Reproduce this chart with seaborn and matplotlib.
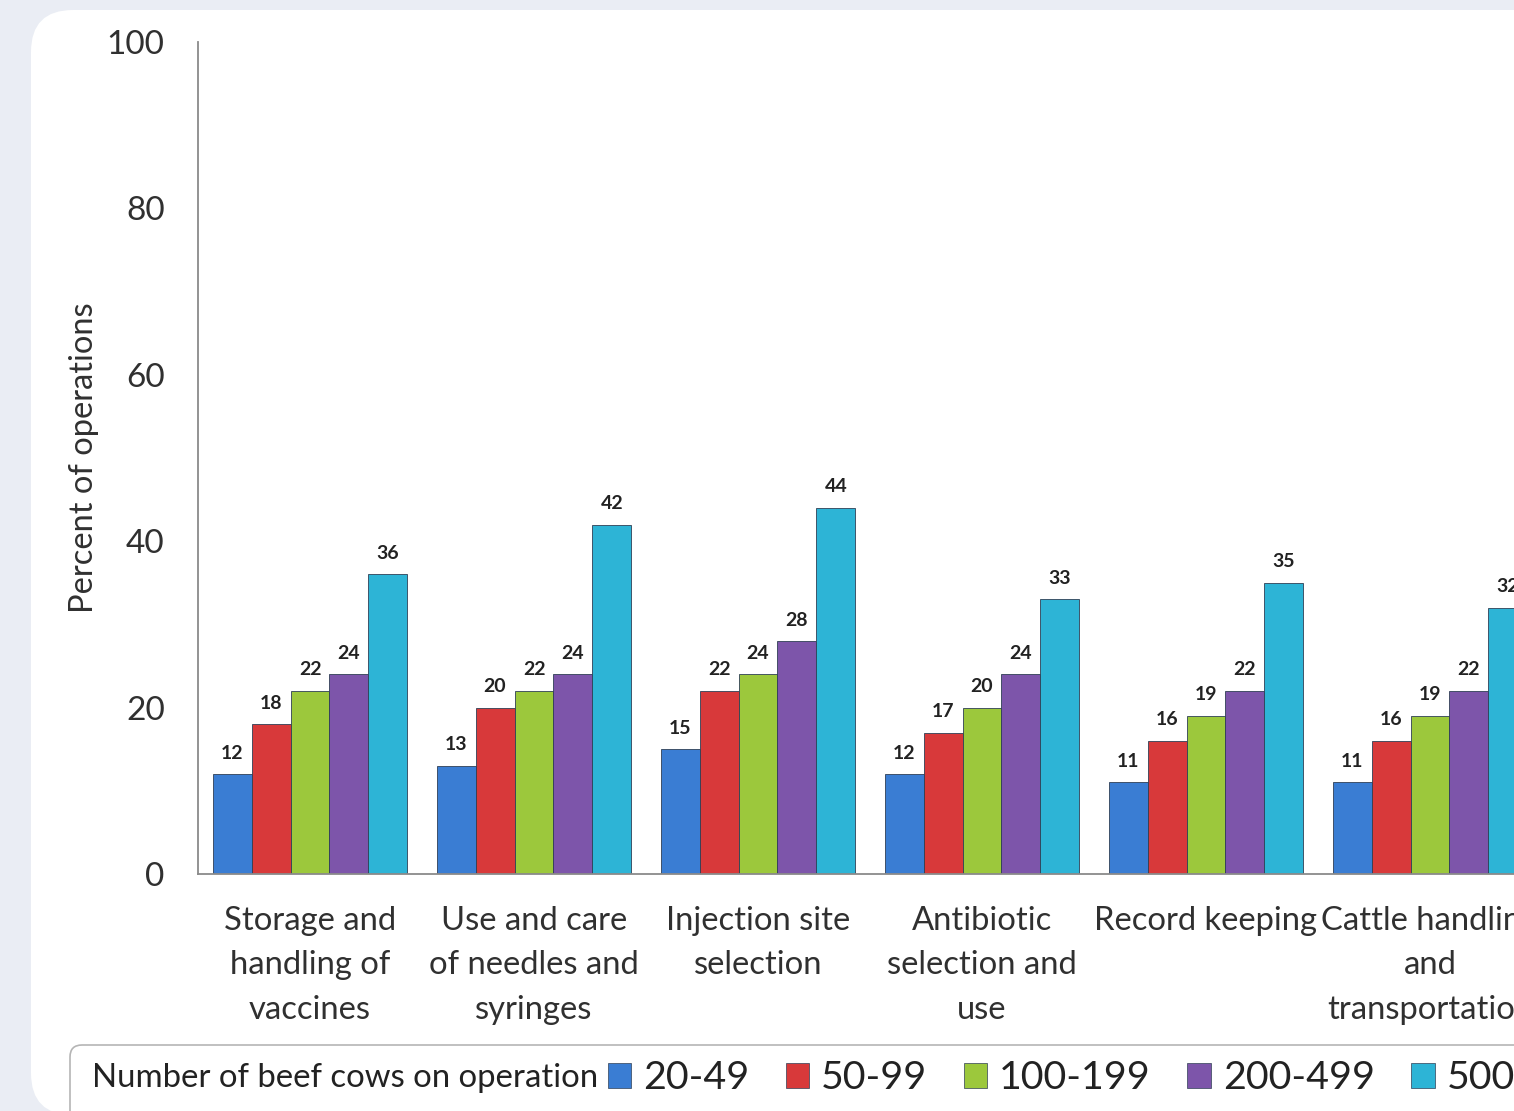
import matplotlib
matplotlib.use("Agg")
import matplotlib.pyplot as plt
from matplotlib.patches import FancyBboxPatch, Patch
import seaborn as sns
import pandas as pd

# chart data
practices = [
    "Storage and\nhandling of\nvaccines",
    "Use and care\nof needles and\nsyringes",
    "Injection site\nselection",
    "Antibiotic\nselection and\nuse",
    "Record keeping",
    "Cattle handling\nand\ntransportation",
]
herd_sizes = ["20-49", "50-99", "100-199", "200-499", "500+"]
pct_20_49 = [12, 13, 15, 12, 11, 11]
pct_50_99 = [18, 20, 22, 17, 16, 16]
pct_100_199 = [22, 22, 24, 20, 19, 19]
pct_200_499 = [24, 24, 28, 24, 22, 22]
pct_500_plus = [36, 42, 44, 33, 35, 32]
y_ticks = [0, 20, 40, 60, 80, 100]

colors = ["#3a7dd3", "#d8393a", "#9cc83c", "#7d55aa", "#2db4d6"]

rows = []
for size, vals in zip(herd_sizes, [pct_20_49, pct_50_99, pct_100_199, pct_200_499, pct_500_plus]):
    for practice, v in zip(practices, vals):
        rows.append({"Practice": practice, "Herd": size, "Percent": v})
df = pd.DataFrame(rows)

sns.set_style("white")
plt.rcParams["font.family"] = ["Lato", "DejaVu Sans"]

W, H = 1514, 1111
fig = plt.figure(figsize=(W / 100, H / 100), dpi=100)
fig.patch.set_facecolor("#eaedf4")

# white card behind the chart
card = FancyBboxPatch((0.31, -0.04), 16.0, 11.05,
                      boxstyle="round,pad=0,rounding_size=0.42",
                      transform=fig.dpi_scale_trans, facecolor="white",
                      edgecolor="none", zorder=-3)
fig.patches.append(card)

# legend strip at the bottom
legend_box = FancyBboxPatch((0.70, -0.3), 16.0, 0.96,
                            boxstyle="round,pad=0,rounding_size=0.12",
                            transform=fig.dpi_scale_trans, facecolor="white",
                            edgecolor="#b5b5b5", linewidth=1.2, zorder=-2)
fig.patches.append(legend_box)

ax = fig.add_axes([198 / W, 237 / H, 1344 / W, 832 / H])
ax.set_facecolor("none")

sns.barplot(data=df, x="Practice", y="Percent", hue="Herd", order=practices,
            hue_order=herd_sizes, palette=colors, width=0.87, gap=0,
            saturation=1, edgecolor="#2f3f55", linewidth=0.6, legend=False, ax=ax)

for cont in ax.containers:
    ax.bar_label(cont, padding=9, fontsize=14, fontweight="bold", color="#222222")

ax.set_xlim(-0.5, len(practices) - 0.5)
ax.set_ylim(0, 100)
ax.set_yticks(y_ticks)
ax.set_xlabel("")
ax.set_ylabel("Percent of operations", fontsize=23.5, color="#303030")
ax.yaxis.set_label_coords(-0.074, 0.5)
ax.tick_params(axis="y", length=0, pad=24, labelsize=24, labelcolor="#303030")
ax.tick_params(axis="x", length=0, pad=23, labelsize=23.6, labelcolor="#303030")
for lbl in ax.get_xticklabels():
    lbl.set_linespacing(1.6)

for side in ["top", "right"]:
    ax.spines[side].set_visible(False)
for side in ["left", "bottom"]:
    ax.spines[side].set_color("#8a8a8a")
    ax.spines[side].set_linewidth(1.3)

fig.text(92 / W, 33 / H, "Number of beef cows on operation", fontsize=23.7,
         color="#222222", va="center", ha="left")
handles = [Patch(facecolor=c, edgecolor="#2f3f55", linewidth=0.5) for c in colors]
fig.legend(handles, herd_sizes, loc="center left", bbox_to_anchor=(588 / W, 33 / H),
           ncol=5, frameon=False, fontsize=28.4, handlelength=0.6, handleheight=0.6,
           handletextpad=0.3, columnspacing=0.92, borderpad=0, labelcolor="#222222")

plt.savefig("out.png", dpi=100)
plt.close()
